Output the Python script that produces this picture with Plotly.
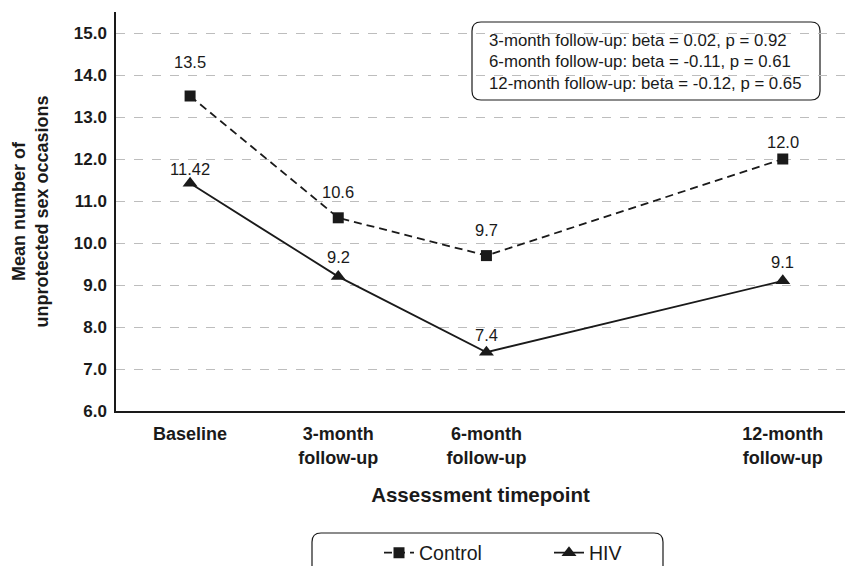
import plotly.graph_objects as go

# ---- data ----
timepoints = [0, 3, 6, 12]  # months
tick_labels = ["Baseline", "3-month<br>follow-up", "6-month<br>follow-up", "12-month<br>follow-up"]
control_values = [13.5, 10.6, 9.7, 12.0]
control_labels = ["13.5", "10.6", "9.7", "12.0"]
hiv_values = [11.42, 9.2, 7.4, 9.1]
hiv_labels = ["11.42", "9.2", "7.4", "9.1"]
stats_lines = [
    "3-month follow-up: beta = 0.02, p = 0.92",
    "6-month follow-up: beta = -0.11, p = 0.61",
    "12-month follow-up: beta = -0.12, p = 0.65",
]
y_ticks = [6, 7, 8, 9, 10, 11, 12, 13, 14, 15]

# label offsets in pixels (style)
control_shift = [34, 26, 26, 17]
hiv_shift = [14, 20, 17, 19]

FONT = "Liberation Sans, Arial, Helvetica, sans-serif"
INK = "#1a1a1a"
W, H = 845, 566
ML, MR, MT, MB = 116, 0, 12, 155
PW, PH = W - ML - MR, H - MT - MB

def px2paper(px, py):
    return (px - ML) / PW, (H - MB - py) / PH

def rounded_rect(x0, y0, x1, y1, r):
    def p(x, y):
        a, b = px2paper(x, y)
        return f"{a:.5f},{b:.5f}"
    return (f"M {p(x0 + r, y0)} L {p(x1 - r, y0)} Q {p(x1, y0)} {p(x1, y0 + r)} "
            f"L {p(x1, y1 - r)} Q {p(x1, y1)} {p(x1 - r, y1)} "
            f"L {p(x0 + r, y1)} Q {p(x0, y1)} {p(x0, y1 - r)} "
            f"L {p(x0, y0 + r)} Q {p(x0, y0)} {p(x0 + r, y0)} Z")

fig = go.Figure()
fig.add_trace(go.Scatter(
    x=timepoints, y=control_values, name="Control", mode="lines+markers",
    line=dict(color=INK, width=1.8, dash="8px,5px"),
    marker=dict(symbol="square", size=11, color=INK),
))
fig.add_trace(go.Scatter(
    x=timepoints, y=hiv_values, name="HIV", mode="lines+markers",
    line=dict(color=INK, width=1.8),
    marker=dict(symbol="triangle-up", size=13, color=INK),
))

annotations = []
for x, y, t, s in zip(timepoints, control_values, control_labels, control_shift):
    annotations.append(dict(x=x, y=y, text=t, showarrow=False, yshift=s,
                            font=dict(family=FONT, size=16.5, color=INK)))
for x, y, t, s in zip(timepoints, hiv_values, hiv_labels, hiv_shift):
    annotations.append(dict(x=x, y=y, text=t, showarrow=False, yshift=s,
                            font=dict(family=FONT, size=16.5, color=INK)))

for i, line in enumerate(stats_lines):
    xp, yp = px2paper(487, 40 + i * 21.5)
    annotations.append(dict(x=xp, y=yp, xref="paper", yref="paper", text=line,
                            showarrow=False, xanchor="left", yanchor="middle",
                            font=dict(family=FONT, size=16.8, color=INK)))

shapes = [
    dict(type="path", xref="paper", yref="paper", path=rounded_rect(472, 22, 820, 100, 9),
         line=dict(color=INK, width=1.2), fillcolor="white", layer="below"),
    dict(type="path", xref="paper", yref="paper", path=rounded_rect(312, 533, 663, 590, 9),
         line=dict(color=INK, width=1.2), fillcolor="rgba(0,0,0,0)", layer="above"),
]

lx, ly = px2paper(379, 553)
fig.update_layout(
    width=W, height=H,
    margin=dict(l=ML, r=MR, t=MT, b=MB, autoexpand=False),
    paper_bgcolor="white", plot_bgcolor="white",
    font=dict(family=FONT, color=INK),
    showlegend=True,
    legend=dict(orientation="h", x=lx, y=ly, xanchor="left", yanchor="middle",
                font=dict(family=FONT, size=19.5, color=INK),
                bgcolor="rgba(0,0,0,0)", itemwidth=30, entrywidth=125),
    annotations=annotations,
    shapes=shapes,
)
fig.update_xaxes(
    range=[-1.5, 13.26], tickvals=timepoints, ticktext=tick_labels,
    showgrid=False, zeroline=False, showline=True, linecolor=INK, linewidth=1.5,
    ticks="", ticklabelstandoff=6,
    tickfont=dict(family=FONT, size=18, weight="bold", color=INK),
    title=dict(text="Assessment timepoint", standoff=21,
               font=dict(family=FONT, size=20.5, weight="bold", color=INK)),
)
fig.update_yaxes(
    range=[6, 15.5], tickvals=y_ticks, tickformat=".1f",
    showgrid=True, gridcolor="#bdbdbd", griddash="dash", gridwidth=1,
    zeroline=False, showline=True, linecolor=INK, linewidth=1.5,
    ticks="", ticklabelstandoff=4,
    tickfont=dict(family=FONT, size=17, weight="bold", color=INK),
    title=dict(text="Mean number of<br>unprotected sex occasions", standoff=20,
               font=dict(family=FONT, size=18, weight="bold", color=INK)),
)

fig.write_html("out.html", config={"displayModeBar": False},
               post_script="document.body.style.margin='0';")
